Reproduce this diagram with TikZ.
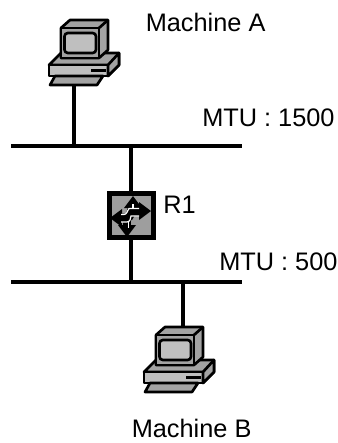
\documentclass[tikz,border=0pt]{standalone}
\usepackage{fontspec}
\setmainfont{Liberation Sans}
\definecolor{cfront}{gray}{0.75}
\definecolor{cside}{gray}{0.64}
\definecolor{rfill}{gray}{0.62}
\tikzset{
  x=0.75pt,y=-0.75pt,
  wire/.style={line width=3.5pt},
  bus/.style={line width=3pt},
  outl/.style={draw=black,line width=2pt,line join=round},
  lbl/.style={inner sep=0pt,font=\fontsize{19pt}{22pt}\selectfont},
  rarrow/.style={fill=black,draw=none},
  rshaft/.style={draw=black,line width=6.5pt},
  rwhite/.style={draw=white,line width=0.9pt},
  routerbox/.style={draw=black,fill=rfill,line width=3.75pt,minimum size=33pt,inner sep=0pt,outer sep=0pt}
}
\newcommand{\pcdraw}[2]{%
\begin{scope}[shift={(#1,#2)}]
  % base
  \filldraw[outl,fill=cside] (49,65) -- (61,53) -- (119,53) -- (119,65) -- (108,76) -- (108,65) -- cycle;
  \filldraw[outl,fill=cfront] (49,65) rectangle (108,76);
  \filldraw[outl,fill=cside] (108,65) -- (119,53) -- (119,65) -- (108,76) -- cycle;
  \fill[black] (91,69) rectangle (106,72);
  % keyboard
  \filldraw[outl,fill=cside] (55,76) -- (103,76) -- (97,85) -- (50,85) -- cycle;
  % monitor
  \filldraw[outl,fill=cside] (61,28) -- (70,20) -- (108,20) -- (108,50) -- (99,58) -- (61,58) -- cycle;
  \draw[outl] (99,28) -- (108,20);
  \filldraw[outl,fill=cside] (61,28) rectangle (99,58);
  \filldraw[outl,fill=cfront,rounded corners=2.5pt] (64.5,33) rectangle (96,53);
\end{scope}}
\begin{document}
\begin{tikzpicture}
\useasboundingbox (0,0) rectangle (338,443);
\coordinate (a1) at (11,146);
\coordinate (a2) at (242,146);
\coordinate (b1) at (11,282);
\coordinate (b2) at (242,282);
\coordinate (pcA) at (74,85);
\coordinate (pcB) at (183,326);
\coordinate (busAr) at (131,146);
\coordinate (busBr) at (131,282);
\coordinate (busBp) at (183,282);
\coordinate (busAp) at (74,146);
\node[routerbox] (r1) at (131,215.5) {};
% connectors
\draw[wire] (pcA) -- (busAp);
\draw[wire] (busAr) -- (busAr |- r1.north);
\draw[wire] (busBr |- r1.south) -- (busBr);
\draw[wire] (busBp) -- (pcB);
\draw[bus] (a1) -- (a2);
\draw[bus] (b1) -- (b2);
\pcdraw{0}{0}
\pcdraw{95}{307}
% router arrow heads
\fill[rarrow] (133,196) -- (142,208) -- (124,208) -- cycle;
\fill[rarrow] (127,237) -- (118,225) -- (136,225) -- cycle;
\fill[rarrow] (110,218) -- (122,209) -- (122,227) -- cycle;
\fill[rarrow] (151,211) -- (139,202) -- (139,220) -- cycle;
% router shafts
\draw[rshaft] (120,218) -- (125,218) .. controls (129,218) and (130,216) .. (131,212) -- (141,212);
\draw[rshaft] (133,206) -- (133,212);
\draw[rshaft] (127,226) -- (127,217);
% router white lines
\draw[rwhite] (121,214.5) -- (124,214.5) .. controls (127,214.5) and (127,211) .. (129,208.5) -- (139,208.5);
\draw[rwhite] (121,222) -- (127,222) .. controls (130,222) and (131,218) .. (131,216) -- (139,216);
\draw[rwhite] (128.5,222) -- (128.5,228);
\draw[rwhite] (133,204) -- (133,208.5);
% labels
\node[lbl,anchor=base west] (la) at (145.5,31.5) {Machine A};
\node[lbl,anchor=base west] (lm1) at (202,126.5) {MTU : 1500};
\node[lbl,anchor=base west] (lr) at (163,213.5) {R1};
\node[lbl,anchor=base west] (lm2) at (219,270) {MTU : 500};
\node[lbl,anchor=base west] (lb) at (131.5,437.5) {Machine B};
\end{tikzpicture}
\end{document}
